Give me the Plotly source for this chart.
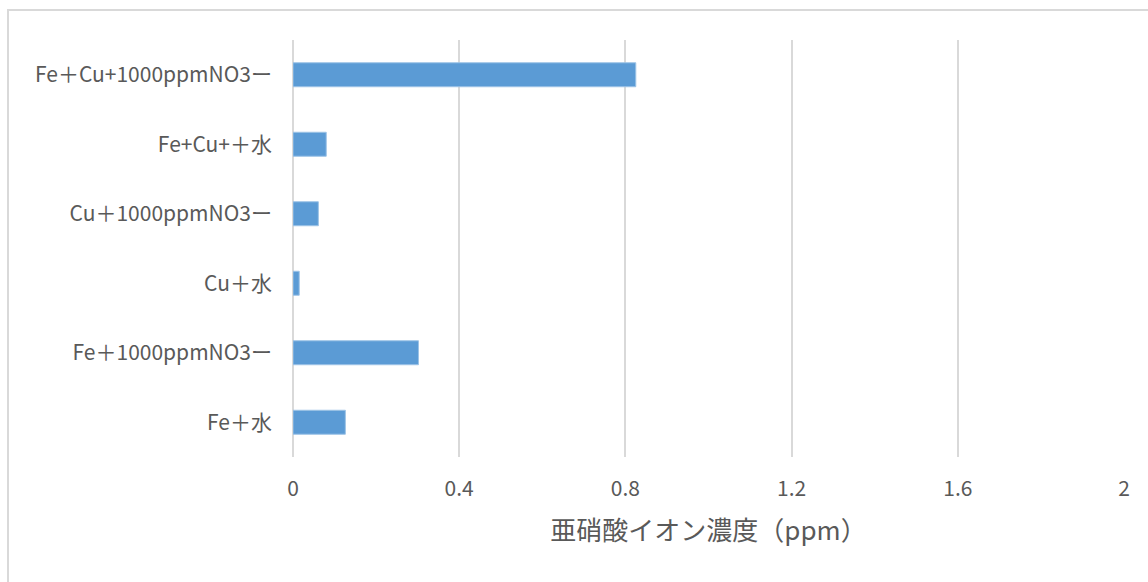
import plotly.graph_objects as go

categories = ["Fe＋水", "Fe＋1000ppmNO3ー", "Cu＋水", "Cu＋1000ppmNO3ー", "Fe+Cu+＋水", "Fe＋Cu+1000ppmNO3ー"]
values = [0.126, 0.302, 0.015, 0.061, 0.080, 0.825]
x_ticks = [0, 0.4, 0.8, 1.2, 1.6, 2]
x_title = "亜硝酸イオン濃度（ppm）"

W, H = 1148, 582
ml, mr, mt, mb = 293, 24, 40, 125
FONT = "Noto Sans CJK JP"
TXT = "#595959"
GRID = "#D9D9D9"

fig = go.Figure(go.Bar(
    x=values, y=categories, orientation="h",
    marker=dict(color="#5B9BD5", line=dict(color="#9DC3E6", width=1)),
))

fig.update_layout(
    width=W, height=H,
    margin=dict(l=ml, r=mr, t=mt, b=mb),
    paper_bgcolor="white", plot_bgcolor="white",
    bargap=0.655,
    showlegend=False,
    font=dict(family=FONT, color=TXT, size=21),
    xaxis=dict(
        range=[0, 2], tickvals=x_ticks, ticktext=[f"{v:g}" for v in x_ticks],
        showgrid=True, gridcolor=GRID, gridwidth=2,
        zeroline=True, zerolinecolor=GRID, zerolinewidth=2,
        showline=False, ticks="", ticklabelstandoff=17,
        tickfont=dict(size=21, color=TXT),
        title=dict(text=x_title, font=dict(size=26, color=TXT), standoff=20),
    ),
    yaxis=dict(
        categoryorder="array", categoryarray=categories,
        showgrid=False, zeroline=False, showline=False, ticks="",
        ticklabelstandoff=20,
        tickfont=dict(size=21, color=TXT),
    ),
    shapes=[dict(
        type="rect", xref="paper", yref="paper",
        x0=(8 - ml) / (W - ml - mr), x1=(W + 20 - ml) / (W - ml - mr),
        y0=-(mb + 20) / (H - mt - mb),
        y1=(H - 10 - mb) / (H - mt - mb),
        line=dict(color=GRID, width=2), fillcolor="rgba(0,0,0,0)", layer="below",
    )],
)

fig.write_html("out.html")
